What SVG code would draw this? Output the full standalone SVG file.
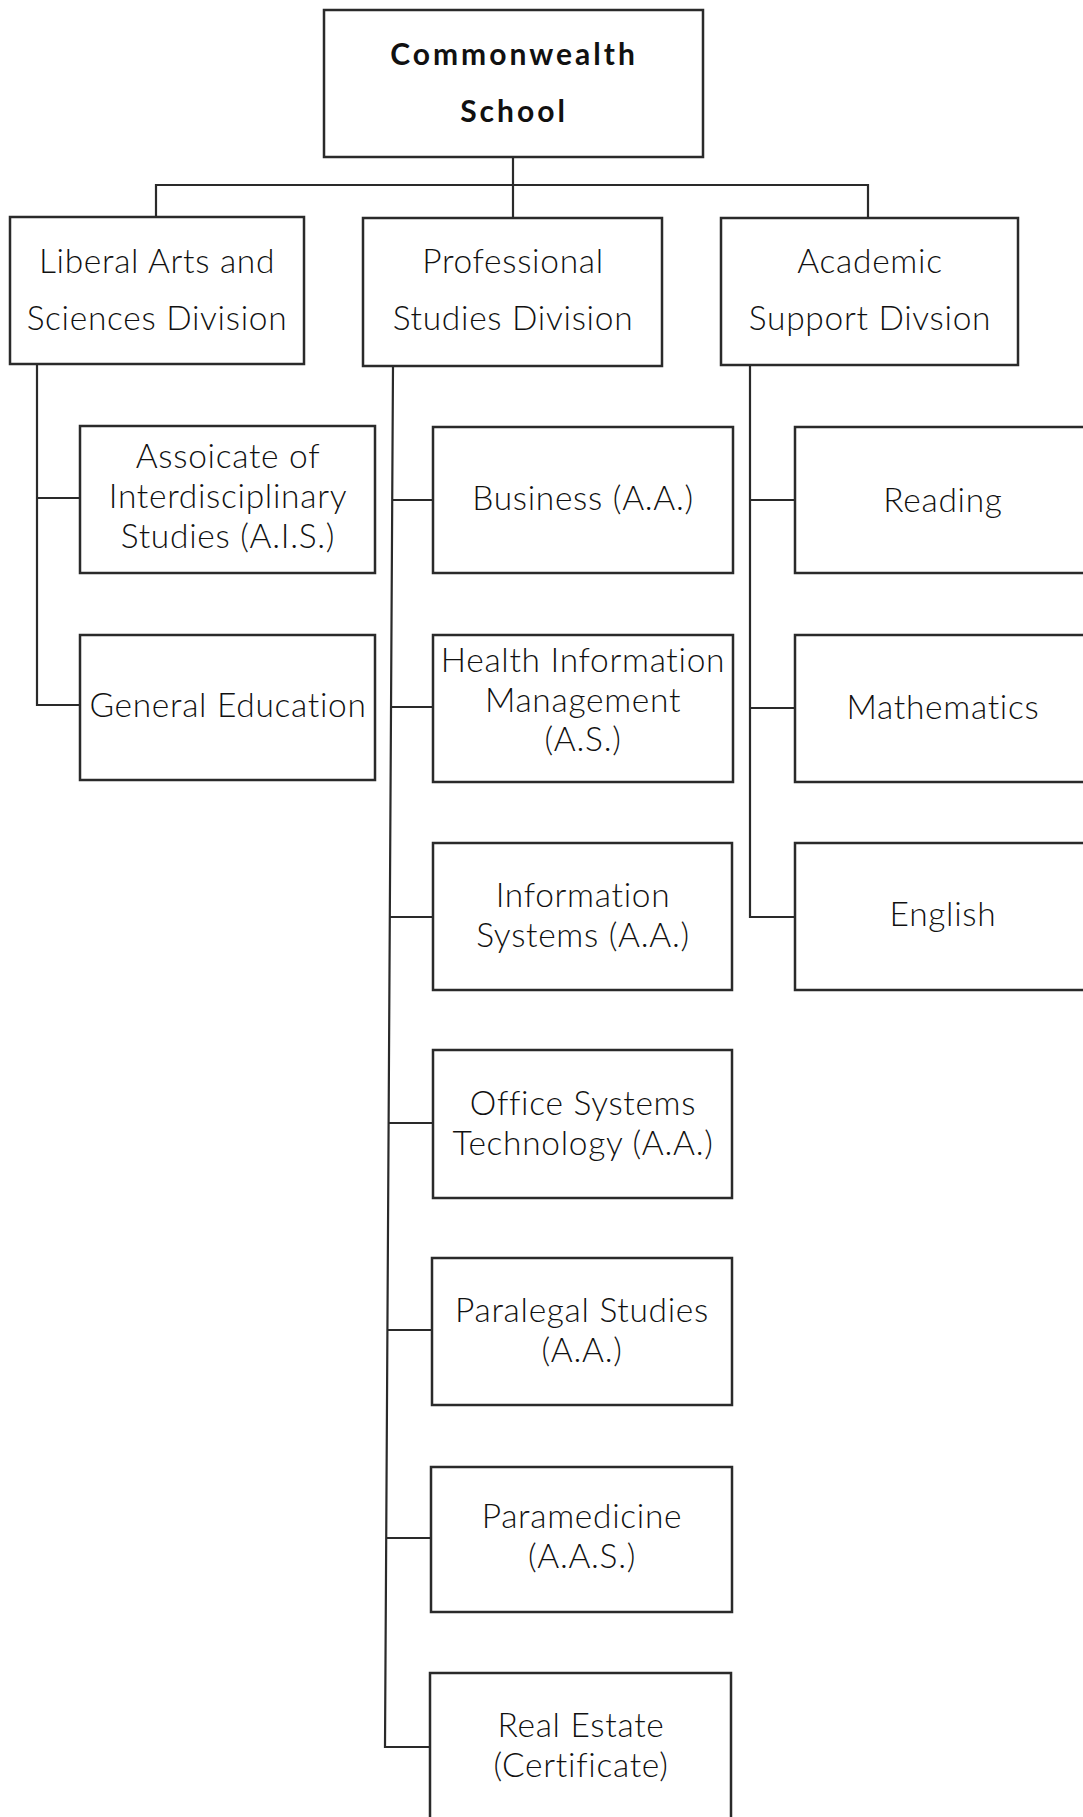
<svg xmlns="http://www.w3.org/2000/svg" width="1083" height="1817" viewBox="0 0 1083 1817">
<style>
.box{fill:#fff;stroke:#2a2a2a;stroke-width:2.5}
.ln{fill:none;stroke:#2a2a2a;stroke-width:2.2}
.t{font-family:Lato,"Open Sans","Liberation Sans",sans-serif;font-weight:300;font-size:33.5px;fill:#111;text-anchor:middle;letter-spacing:0.7px}
.tb{font-family:Lato,"Open Sans","Liberation Sans",sans-serif;font-weight:700;font-size:30px;fill:#111;text-anchor:middle;letter-spacing:3px}
</style>
<rect width="1083" height="1817" fill="#fff"/>
<g id="connectors">
<path class="ln" d="M513,157 V185 M156,217 V185 H868 V218 M513,185 V218"/>
<path class="ln" d="M37,364 V705 H80 M37,498 H80"/>
<path class="ln" d="M393,366 L385,1747 H430 M392,500 H433 M391,707 H433 M390,917 H433 M389,1123 H433 M387,1330 H432 M386,1538 H431"/>
<path class="ln" d="M750,365 V917 H795 M750,500 H795 M750,708 H795"/>
</g>
<g id="root">
<rect class="box" x="324" y="10" width="379" height="147"/>
<text class="tb" x="514" y="65">Commonwealth</text>
<text class="tb" x="514" y="122">School</text>
</g>
<g id="liberal-arts">
<rect class="box" x="10" y="217" width="294" height="147"/>
<text class="t" x="157" y="273">Liberal Arts and</text>
<text class="t" x="157" y="330">Sciences Division</text>
</g>
<g id="professional">
<rect class="box" x="363" y="218" width="299" height="148"/>
<text class="t" x="513" y="273">Professional</text>
<text class="t" x="513" y="330">Studies Division</text>
</g>
<g id="academic-support">
<rect class="box" x="721" y="218" width="297" height="147"/>
<text class="t" x="870" y="273">Academic</text>
<text class="t" x="870" y="330">Support Divsion</text>
</g>
<g id="ais">
<rect class="box" x="80" y="426" width="295" height="147"/>
<text class="t" x="228" y="468">Assoicate of</text>
<text class="t" x="228" y="508">Interdisciplinary</text>
<text class="t" x="228" y="548">Studies (A.I.S.)</text>
</g>
<g id="gen-ed">
<rect class="box" x="80" y="635" width="295" height="145"/>
<text class="t" x="228" y="717">General Education</text>
</g>
<g id="business">
<rect class="box" x="433" y="427" width="300" height="146"/>
<text class="t" x="583" y="510">Business (A.A.)</text>
</g>
<g id="health">
<rect class="box" x="433" y="635" width="300" height="147"/>
<text class="t" x="583" y="672">Health Information</text>
<text class="t" x="583" y="712">Management</text>
<text class="t" x="583" y="751">(A.S.)</text>
</g>
<g id="info-systems">
<rect class="box" x="433" y="843" width="299" height="147"/>
<text class="t" x="583" y="907">Information</text>
<text class="t" x="583" y="947">Systems (A.A.)</text>
</g>
<g id="office-systems">
<rect class="box" x="433" y="1050" width="299" height="148"/>
<text class="t" x="583" y="1115">Office Systems</text>
<text class="t" x="583" y="1155">Technology (A.A.)</text>
</g>
<g id="paralegal">
<rect class="box" x="432" y="1258" width="300" height="147"/>
<text class="t" x="582" y="1322">Paralegal Studies</text>
<text class="t" x="582" y="1362">(A.A.)</text>
</g>
<g id="paramedicine">
<rect class="box" x="431" y="1467" width="301" height="145"/>
<text class="t" x="582" y="1528">Paramedicine</text>
<text class="t" x="582" y="1568">(A.A.S.)</text>
</g>
<g id="real-estate">
<rect class="box" x="430" y="1673" width="301" height="160"/>
<text class="t" x="581" y="1737">Real Estate</text>
<text class="t" x="581" y="1777">(Certificate)</text>
</g>
<g id="reading">
<rect class="box" x="795" y="427" width="296" height="146"/>
<text class="t" x="943" y="512">Reading</text>
</g>
<g id="mathematics">
<rect class="box" x="795" y="635" width="296" height="147"/>
<text class="t" x="943" y="719">Mathematics</text>
</g>
<g id="english">
<rect class="box" x="795" y="843" width="296" height="147"/>
<text class="t" x="943" y="926">English</text>
</g>
</svg>
